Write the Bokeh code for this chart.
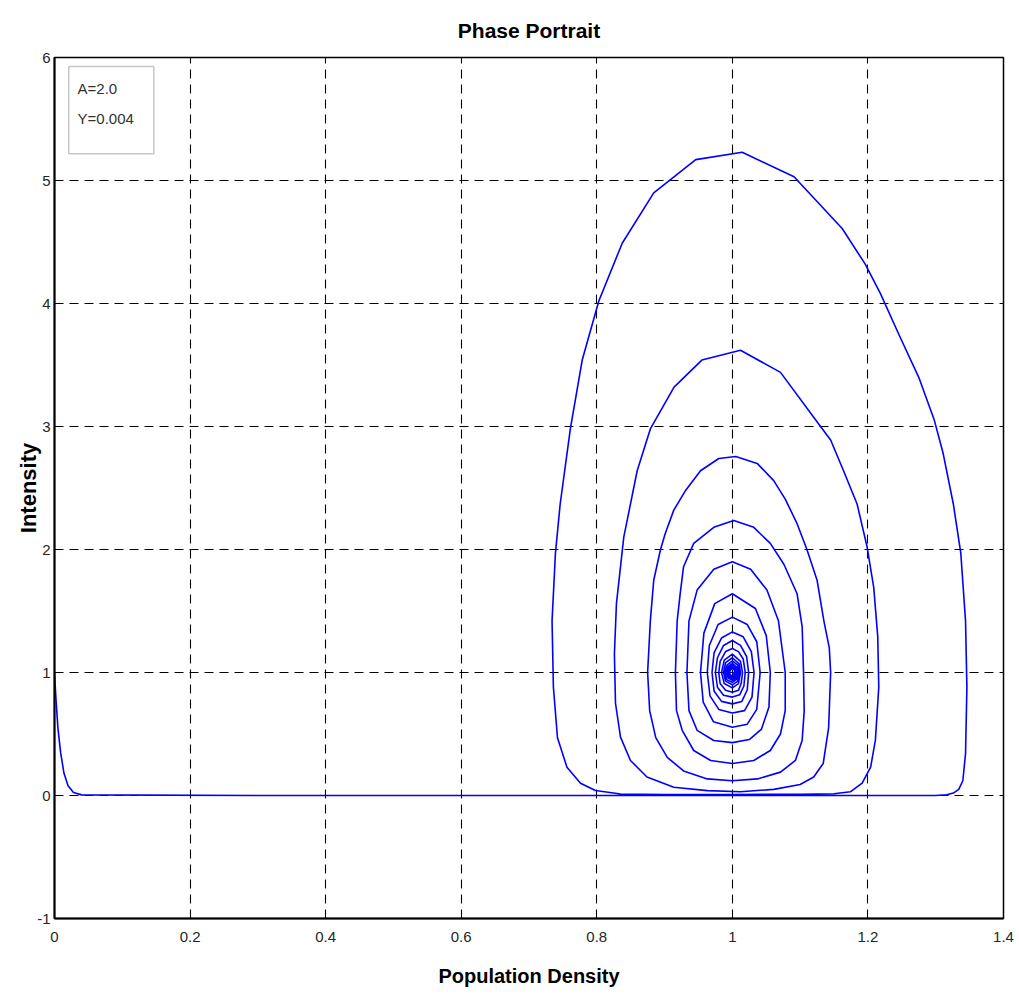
from bokeh.plotting import figure
from bokeh.models import Range1d, FixedTicker, BoxAnnotation, Label
from bokeh.embed import file_html
from bokeh.resources import INLINE

# ---- data: trajectory (population density, intensity) ----
pop_density = [
    0.000, 0.002, 0.005, 0.009, 0.014, 0.020, 0.028, 0.040, 0.300, 0.600, 0.900, 1.200, 1.300, 1.316,
    1.326, 1.334, 1.340, 1.344, 1.346, 1.344, 1.337, 1.326, 1.311, 1.298, 1.275, 1.2455, 1.2185, 1.196,
    1.162, 1.091, 1.0145, 0.946, 0.884, 0.8375, 0.803, 0.7785, 0.761, 0.746, 0.739, 0.734, 0.736, 0.742,
    0.756, 0.776, 0.798, 0.835, 0.900, 1.000, 1.100, 1.150,
    1.174, 1.1915, 1.204, 1.211, 1.216, 1.2145, 1.2086, 1.1988, 1.184, 1.164, 1.145, 1.126, 1.071, 1.012,
    0.955, 0.914, 0.879, 0.8596, 0.8398, 0.829, 0.826, 0.8276, 0.835, 0.8497, 0.874, 0.9136, 0.963, 1.012,
    1.061, 1.100, 1.120, 1.134, 1.142, 1.145,
    1.143, 1.135, 1.125, 1.110, 1.0955, 1.078, 1.061, 1.0366, 1.005, 0.980, 0.953, 0.931, 0.9136, 0.901,
    0.894, 0.884, 0.879, 0.875, 0.878, 0.887, 0.904, 0.928, 0.963, 1.000, 1.037, 1.071, 1.093, 1.103,
    1.106, 1.105,
    1.103, 1.0955, 1.076, 1.056, 1.0316, 1.002, 0.9726, 0.943, 0.928, 0.923, 0.9186, 0.916, 0.9176, 0.926,
    0.943, 0.968, 1.000, 1.0316, 1.056, 1.071, 1.078, 1.078,
    1.068, 1.051, 1.027, 1.000, 0.9726, 0.948, 0.936, 0.933, 0.936, 0.948, 0.9726, 1.000, 1.025, 1.043,
    1.054, 1.056,
    1.050, 1.034, 1.000, 0.974, 0.958, 0.953, 0.957, 0.972, 1.000, 1.022, 1.036, 1.041,
    1.036, 1.022, 1.000, 0.979, 0.966, 0.963, 0.967, 0.980, 1.000, 1.018, 1.029, 1.032,
    1.028, 1.016, 1.000, 0.984, 0.973, 0.970, 0.973, 0.984, 1.000, 1.014, 1.022, 1.024,
    1.021, 1.012, 1.000, 0.987, 0.978, 0.975, 0.978, 0.987, 1.000, 1.011, 1.017, 1.019,
    1.016, 1.009, 1.000, 0.990, 0.982, 0.980, 0.982, 0.990, 1.000, 1.009, 1.013, 1.015,
    1.012, 1.000, 0.988, 0.984, 0.988, 1.000, 1.009, 1.012,
    1.010, 1.000, 0.990, 0.987, 0.990, 1.000, 1.008, 1.010,
    1.008, 1.000, 0.992, 0.989, 0.992, 1.000, 1.006, 1.008,
    1.006, 1.000, 0.994, 0.991, 0.994, 1.000, 1.005, 1.006,
    1.005, 1.000, 0.995, 0.993, 0.995, 1.000, 1.004, 1.005,
    1.004, 1.000, 0.996, 0.995, 0.996, 1.000, 1.003, 1.004,
    1.003, 1.000, 0.997, 0.996, 0.997, 1.000, 1.002, 1.003,
    1.000,
]
intensity = [
    1.00, 0.80, 0.55, 0.35, 0.18, 0.08, 0.025, 0.005, 0.000, 0.000, 0.000, 0.000, 0.000, 0.006,
    0.02, 0.05, 0.12, 0.34, 0.88, 1.42, 1.97, 2.37, 2.78, 3.05, 3.40, 3.75, 4.08, 4.32,
    4.61, 5.03, 5.23, 5.17, 4.90, 4.49, 4.02, 3.54, 2.98, 2.37, 1.97, 1.42, 0.88, 0.47,
    0.23, 0.10, 0.04, 0.012, 0.008, 0.008, 0.010, 0.014,
    0.03, 0.10, 0.23, 0.45, 0.88, 1.29, 1.69, 2.02, 2.37, 2.64, 2.89, 3.03, 3.44, 3.62,
    3.54, 3.32, 2.98, 2.64, 2.10, 1.56, 1.15, 0.75, 0.475, 0.285, 0.15, 0.067, 0.040, 0.030,
    0.050, 0.090, 0.150, 0.26, 0.55, 1.00,
    1.20, 1.42, 1.75, 2.00, 2.21, 2.41, 2.56, 2.70, 2.756, 2.74, 2.64, 2.48, 2.32, 2.13,
    2.00, 1.75, 1.42, 1.00, 0.69, 0.47, 0.31, 0.20, 0.135, 0.120, 0.135, 0.19, 0.285, 0.45,
    0.69, 1.00,
    1.37, 1.64, 1.88, 2.05, 2.18, 2.236, 2.18, 2.05, 1.86, 1.64, 1.42, 1.00, 0.69, 0.53,
    0.366, 0.285, 0.26, 0.285, 0.366, 0.50, 0.69, 1.00,
    1.42, 1.67, 1.84, 1.90, 1.84, 1.67, 1.42, 1.00, 0.69, 0.53, 0.447, 0.43, 0.455, 0.54,
    0.72, 1.00,
    1.30, 1.52, 1.64, 1.56, 1.32, 1.00, 0.76, 0.60, 0.555, 0.58, 0.70, 1.00,
    1.25, 1.39, 1.45, 1.39, 1.22, 1.00, 0.81, 0.70, 0.67, 0.69, 0.80, 1.00,
    1.17, 1.29, 1.33, 1.28, 1.16, 1.00, 0.85, 0.765, 0.745, 0.765, 0.86, 1.00,
    1.13, 1.22, 1.26, 1.22, 1.12, 1.00, 0.88, 0.815, 0.80, 0.82, 0.89, 1.00,
    1.11, 1.17, 1.195, 1.17, 1.09, 1.00, 0.91, 0.855, 0.84, 0.855, 0.91, 1.00,
    1.09, 1.15, 1.10, 1.00, 0.91, 0.875, 0.91, 1.00,
    1.07, 1.12, 1.08, 1.00, 0.93, 0.90, 0.93, 1.00,
    1.06, 1.095, 1.06, 1.00, 0.94, 0.92, 0.945, 1.00,
    1.045, 1.075, 1.05, 1.00, 0.955, 0.937, 0.957, 1.00,
    1.035, 1.06, 1.04, 1.00, 0.965, 0.95, 0.967, 1.00,
    1.03, 1.045, 1.03, 1.00, 0.972, 0.96, 0.975, 1.00,
    1.02, 1.035, 1.02, 1.00, 0.98, 0.97, 0.98, 1.00,
    1.00,
]
x_ticks = [0, 0.2, 0.4, 0.6, 0.8, 1.0, 1.2, 1.4]
x_tick_labels = ["0", "0.2", "0.4", "0.6", "0.8", "1", "1.2", "1.4"]
y_ticks = [-1, 0, 1, 2, 3, 4, 5, 6]
y_tick_labels = ["-1", "0", "1", "2", "3", "4", "5", "6"]
param_lines = ["A=2.0", "Y=0.004"]

FONT = "Liberation Sans"

p = figure(
    width=1017, height=995,
    x_range=Range1d(0, 1.4), y_range=Range1d(-1, 6),
    output_backend="svg", toolbar_location=None,
    min_border_left=54, min_border_right=14, min_border_top=57, min_border_bottom=77,
    title="Phase Portrait",
)
p.background_fill_color = "white"
p.border_fill_color = "white"
p.outline_line_color = "black"
p.outline_line_width = 1.5

p.title.align = "center"
p.title.text_font = FONT
p.title.text_font_size = "21px"
p.title.text_font_style = "bold"
p.title.text_color = "black"
p.title.standoff = 31

for ax, ticks, labels in ((p.xaxis[0], x_ticks, x_tick_labels), (p.yaxis[0], y_ticks, y_tick_labels)):
    ax.ticker = FixedTicker(ticks=ticks)
    ax.major_label_overrides = {t: l for t, l in zip(ticks, labels)}
    ax.minor_tick_line_color = None
    ax.major_tick_in = 7
    ax.major_tick_out = 0
    ax.major_tick_line_color = "black"
    ax.axis_line_color = "black"
    ax.axis_line_width = 2
    ax.major_label_text_font = FONT
    ax.major_label_text_font_size = "15px"
    ax.major_label_text_color = "#262626"
    ax.axis_label_text_font = FONT
    ax.axis_label_text_font_style = "bold"
    ax.axis_label_text_color = "black"

p.xaxis.axis_label = "Population Density"
p.yaxis.axis_label = "Intensity"
p.xaxis.axis_label_text_font_size = "20px"
p.yaxis.axis_label_text_font_size = "22px"
p.xaxis.major_label_standoff = 13
p.xaxis.axis_label_standoff = 20
p.yaxis.major_label_standoff = 4
p.yaxis.axis_label_standoff = -7

p.grid.grid_line_color = "black"
p.grid.grid_line_dash = "9 6"
p.grid.grid_line_width = 1.1
p.xgrid.ticker = FixedTicker(ticks=x_ticks)
p.ygrid.ticker = FixedTicker(ticks=y_ticks)

p.line(pop_density, intensity, line_color="#0000ff", line_width=1.6, line_join="round")

# parameter box
box = BoxAnnotation(left=0.021, right=0.1465, top=5.927, bottom=5.217,
                    fill_color="white", fill_alpha=1.0, line_color="#444444", line_width=1.5)
p.add_layout(box)
for i, txt in enumerate(param_lines):
    p.add_layout(Label(x=0.034, y=5.748 - i * 0.244, text=txt, text_font=FONT,
                       text_font_size="15px", text_color="#333333", text_baseline="middle"))

open("out.html", "w").write(file_html(p, INLINE))
